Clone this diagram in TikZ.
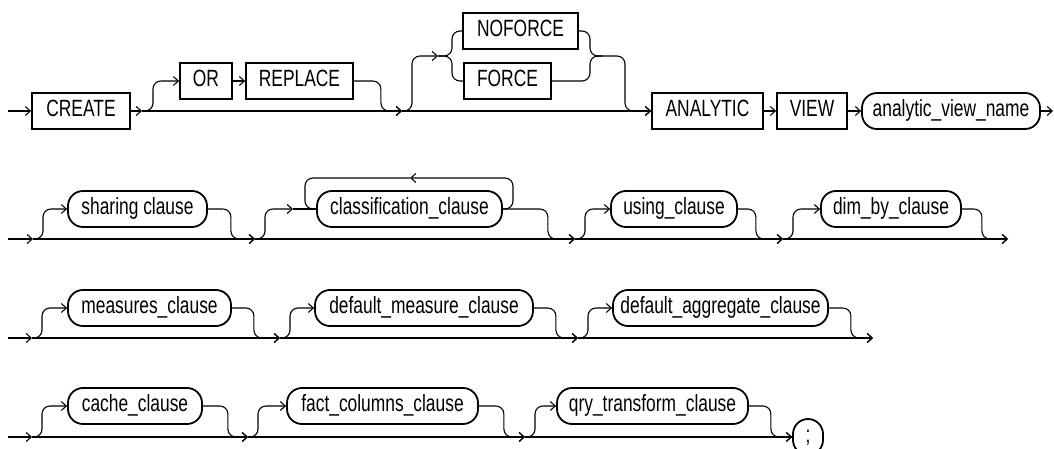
\documentclass[tikz,border=0pt]{standalone}
\usepackage{fontspec}
\setmainfont{Liberation Sans}[FakeStretch=0.74]
\usetikzlibrary{arrows.meta,positioning}

\tikzset{
  kwbox/.style={draw, line width=1.8pt, rectangle, minimum height=36pt,
    text height=16pt, text depth=5pt, inner xsep=0pt},
  refbox/.style={kwbox, rounded corners=15pt},
  conn/.style={line width=1.1pt, rounded corners=8pt},
}

\begin{document}
\begin{tikzpicture}[x=1pt, y=-1pt, >={Straight Barb[length=5pt,width=9pt]},
    font=\fontsize{23.5}{27}\selectfont]
  \useasboundingbox (0,0) rectangle (1054,449);

  % row 1
  \coordinate (s1) at (8,111);
  \node[kwbox, minimum width=98pt] (create) at (81,111) {CREATE};
  \node[kwbox, minimum width=52pt] (or) at (206,81) {OR};
  \node[kwbox, minimum width=107pt] (replace) at (299.5,81) {REPLACE};
  \node[kwbox, minimum width=115pt] (noforce) at (520.5,31) {NOFORCE};
  \node[kwbox, minimum width=87pt] (force) at (507.5,81) {FORCE};
  \node[kwbox, minimum width=111pt] (analytic) at (707.5,111) {ANALYTIC};
  \node[kwbox, minimum width=70pt] (view) at (812,111) {VIEW};
  \node[refbox, minimum width=178pt] (avname) at (951,111) {analytic\_view\_name};
  \coordinate (f1) at (142,111);
  \coordinate (f2) at (402,111);
  \coordinate (g1) at (438,56);
  \coordinate (g2) at (452,56);
  \coordinate (j1) at (590,56);
  \coordinate (j2) at (625,56);
  \coordinate (e1) at (1053,111);

  \draw[conn,->] (s1) -- (create.west);
  \draw[conn,->] (create.east) -- (f1);
  \draw[conn,->] (f1) -- ++(11,0) |- (or.west);
  \draw[conn,->] (or) -- (replace);
  \draw[conn,->] (replace.east) -- ++(27,0) |- (f2);
  \draw[conn,->] (f1) -- (f2);
  \draw[conn,->] (f2) -- ++(10,0) |- (g1);
  \draw[conn] (g1) -- (g2) |- (noforce.west);
  \draw[conn] (g1) -- (g2) |- (force.west);
  \draw[conn,->] (noforce.east) -| (j1) -- (j2) |- (analytic.west);
  \draw[conn] (force.east) -| (j1) -- ++(12,0);
  \draw[conn,->] (f2) -- (analytic.west);
  \draw[conn,->] (analytic) -- (view);
  \draw[conn,->] (view) -- (avname);
  \draw[conn,->] (avname.east) -- (e1);

  % row 2
  \coordinate (s2) at (8,239);
  \coordinate (f3) at (33,239);
  \node[refbox, minimum width=139pt] (sharing) at (137.5,209) {sharing clause};
  \coordinate (f4) at (255,239);
  \coordinate (h1) at (293,209);
  \node[refbox, minimum width=185pt] (classif) at (409.5,209) {classification\_clause};
  \coordinate (lp1) at (513,178);
  \coordinate (lpm) at (410,178);
  \coordinate (lp2) at (305,178);
  \coordinate (f5) at (575,239);
  \node[refbox, minimum width=126pt] (using) at (674,209) {using\_clause};
  \coordinate (f6) at (783,239);
  \node[refbox, minimum width=140pt] (dimby) at (891,209) {dim\_by\_clause};
  \coordinate (e2) at (1008,239);

  \draw[conn,->] (s2) -- (f3);
  \draw[conn,->] (f3) -- ++(10,0) |- (sharing.west);
  \draw[conn,->] (sharing.east) -- ++(23,0) |- (f4);
  \draw[conn,->] (f3) -- (f4);
  \draw[conn,->] (f4) -- ++(10,0) |- (h1);
  \draw[conn] (h1) -- (classif.west);
  \draw[conn,->] (classif.east) -| (lp1) -- (lpm);
  \draw[conn] (lpm) -- (lp2) |- (classif.west);
  \draw[conn,->] (classif.east) -- ++(45,0) |- (f5);
  \draw[conn,->] (f4) -- (f5);
  \draw[conn,->] (f5) -- ++(10,0) |- (using.west);
  \draw[conn,->] (using.east) -- ++(18,0) |- (f6);
  \draw[conn,->] (f5) -- (f6);
  \draw[conn,->] (f6) -- ++(10,0) |- (dimby.west);
  \draw[conn,->] (dimby.east) -- ++(20,0) |- (e2);
  \draw[conn,->] (f6) -- (e2);

  % row 3
  \coordinate (s3) at (8,338);
  \coordinate (f7) at (32,338);
  \node[refbox, minimum width=163pt] (measures) at (149.5,308) {measures\_clause};
  \coordinate (f8) at (280,338);
  \node[refbox, minimum width=218pt] (defmeasure) at (424,308) {default\_measure\_clause};
  \coordinate (f9) at (578,338);
  \node[refbox, minimum width=215pt] (defagg) at (720.5,308) {default\_aggregate\_clause};
  \coordinate (e3) at (873,338);

  \draw[conn,->] (s3) -- (f7);
  \draw[conn,->] (f7) -- ++(10,0) |- (measures.west);
  \draw[conn,->] (measures.east) -- ++(22,0) |- (f8);
  \draw[conn,->] (f7) -- (f8);
  \draw[conn,->] (f8) -- ++(10,0) |- (defmeasure.west);
  \draw[conn,->] (defmeasure.east) -- ++(22,0) |- (f9);
  \draw[conn,->] (f8) -- (f9);
  \draw[conn,->] (f9) -- ++(10,0) |- (defagg.west);
  \draw[conn,->] (defagg.east) -- ++(22,0) |- (e3);
  \draw[conn,->] (f9) -- (e3);

  % row 4
  \coordinate (s4) at (8,437);
  \coordinate (f10) at (32,437);
  \node[refbox, minimum width=134pt] (cache) at (135,406) {cache\_clause};
  \coordinate (f11) at (248,437);
  \node[refbox, minimum width=191pt] (factcols) at (382.5,406) {fact\_columns\_clause};
  \coordinate (f12) at (525,437);
  \node[refbox, minimum width=191pt] (qrytrans) at (652.5,406) {qry\_transform\_clause};
  \node[refbox, minimum width=30pt] (semi) at (808,437) {;};

  \draw[conn,->] (s4) -- (f10);
  \draw[conn,->] (f10) -- ++(10,0) |- (cache.west);
  \draw[conn,->] (cache.east) -- ++(25,0) |- (f11);
  \draw[conn,->] (f10) -- (f11);
  \draw[conn,->] (f11) -- ++(10,0) |- (factcols.west);
  \draw[conn,->] (factcols.east) -- ++(25,0) |- (f12);
  \draw[conn,->] (f11) -- (f12);
  \draw[conn,->] (f12) -- ++(10,0) |- (qrytrans.west);
  \draw[conn,->] (qrytrans.east) -- ++(22,0) |- (semi.west);
  \draw[conn,->] (f12) -- (semi.west);
\end{tikzpicture}
\end{document}
